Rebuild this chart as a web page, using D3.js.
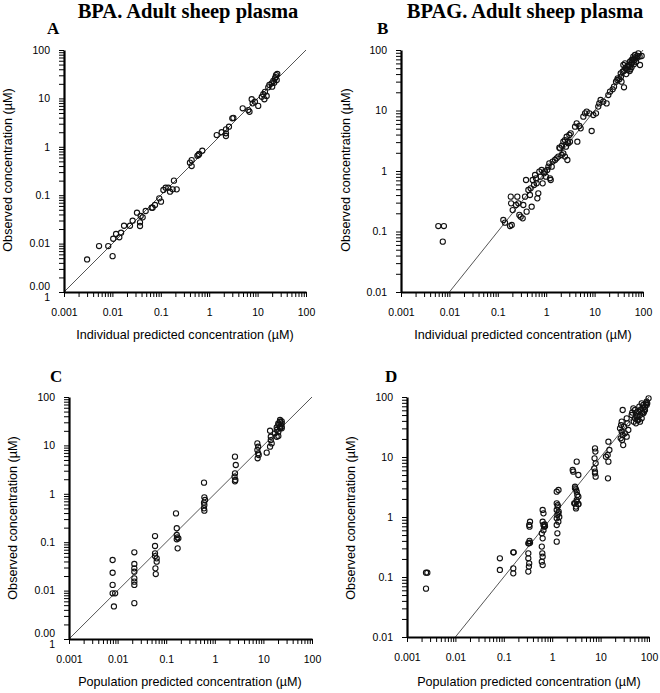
<!DOCTYPE html>
<html><head><meta charset="utf-8">
<script src="https://cdn.jsdelivr.net/npm/d3@7"></script>
<style>body{margin:0;background:#fff}svg{display:block}</style>
</head><body>
<svg id="chart" width="660" height="693"></svg>
<script>
// ---------------- DATA ----------------
const xTickValues = [0.001, 0.01, 0.1, 1, 10, 100];
const xTickLabels = ["0.001", "0.01", "0.1", "1", "10", "100"];
const yTickValuesFull = [0.001, 0.01, 0.1, 1, 10, 100];
const yTickLabelsFull = ["0.00\n1", "0.01", "0.1", "1", "10", "100"];
const yTickValuesShort = [0.01, 0.1, 1, 10, 100];
const yTickLabelsShort = ["0.01", "0.1", "1", "10", "100"];

const titles = ["BPA. Adult sheep plasma", "BPAG. Adult sheep plasma"];
const panelLetters = ["A", "B", "C", "D"];
const xTitles = ["Individual predicted concentration (\u00b5M)", "Population predicted concentration (\u00b5M)"];
const yTitle = "Observed concentration (\u00b5M)";

// [predicted, observed]
const bpaIpred = [
  [0.0030,0.0047],[0.0053,0.0089],[0.0082,0.0089],[0.0101,0.0055],[0.0104,0.0126],[0.0119,0.0158],
  [0.0139,0.0135],[0.0151,0.0168],[0.0174,0.0234],[0.0231,0.0234],[0.0262,0.0297],[0.0322,0.0435],
  [0.0372,0.0231],[0.0372,0.0275],[0.0384,0.0372],[0.0422,0.0349],[0.0487,0.0472],[0.0647,0.0552],
  [0.0677,0.055],[0.0759,0.0627],[0.093,0.086],[0.101,0.0735],[0.113,0.128],[0.126,0.143],
  [0.143,0.143],[0.155,0.118],[0.176,0.132],[0.187,0.2],[0.213,0.132],[0.40,0.47],[0.434,0.40],
  [0.434,0.53],[0.57,0.65],[0.62,0.71],[0.60,0.68],[0.72,0.83],[1.43,1.75],[1.81,2.0],[2.22,1.9],
  [2.22,2.3],[2.56,2.6],[2.22,1.67],[3.0,3.88],[3.16,3.95],[4.92,6.24],[6.43,5.75],[6.8,5.3],
  [7.55,9.6],[7.9,7.9],[8.8,8.55],[10.3,7.0],[12.2,10.8],[13.1,12.2],[14.2,13.7],[13.8,9.6],
  [15.4,11.2],[16.6,16.9],[17.5,18.9],[19.5,20.5],[21.1,22.9],[22.9,26.0],[24,30.4],[25.5,31.9],
  [24.8,24.0],[22,21],[20,17.5],[23.5,27.5]
];

const bpagIpred = [
  [0.0059,0.123],[0.0077,0.123],[0.0073,0.068],
  [0.130,0.155],[0.141,0.140],[0.179,0.123],[0.194,0.128],[0.185,0.377],[0.188,0.292],[0.203,0.226],
  [0.238,0.274],[0.253,0.377],[0.266,0.292],[0.279,0.188],[0.297,0.176],[0.327,0.165],[0.337,0.274],
  [0.365,0.377],[0.383,0.710],[0.394,0.213],[0.428,0.485],[0.462,0.401],[0.477,0.517],[0.501,0.257],
  [0.525,0.710],[0.560,0.587],[0.588,0.859],[0.615,0.757],[0.635,0.625],[0.656,0.353],[0.687,0.428],
  [0.721,0.975],[0.769,0.806],[0.805,1.04],[0.845,0.625],[0.902,0.914],[0.944,0.975],[0.99,0.806],
  [1.05,1.04],[1.11,1.18],[1.16,1.34],[1.20,0.757],[1.24,0.710],[1.30,1.18],[1.36,1.43],[1.52,1.52],
  [1.64,1.62],[1.78,1.73],[1.93,2.37],[2.09,1.84],[2.26,1.96],[2.44,1.73],[2.56,2.52],[2.74,1.52],
  [2.86,2.87],[3.10,3.05],[4.40,3.05],
  [1.87,2.43],[2.12,2.62],[2.26,3.05],[2.44,3.25],[2.65,3.69],[2.78,3.05],[3.01,3.94],[3.21,4.20],
  [3.94,5.40],[4.26,6.13],[4.84,5.55],[5.15,5.07],[5.85,7.91],[6.34,8.98],[6.86,9.57],[7.78,8.98],
  [8.70,4.58],[9.42,8.43],[10.7,8.98],[11.9,11.6],[12.5,13.1],[13.3,14.9],[15.1,14.0],[17.7,13.1],
  [19.2,18.0],[20.8,20.5],[23.6,22.4],[25.2,24.8],[27.7,30.0],[29.5,31.9],[32.5,32.7],[34.6,41.1],
  [38.0,43.8],[39.3,56.5],[40.5,24.2],[42.5,60.2],[44.5,49.8],[47.5,46.7],[51.4,56.5],[53.8,64.1],
  [58.3,68.4],[63.1,77.6],[68.4,82.6],[74.0,72.8],[80.1,88.1],[86.7,56.5],[93.8,79.6],
  [35,36],[40,45],[45,40],[50,52],[55,48],[60,62],[65,58],[70,75],[48,55],[57,60],[62,70],[72,64],
  [78,80],[53,45],[43,50],[66,68],[85,78],[30,34],[36,30],[58,52]
];

const bpaPpred = [
  [0.0079,0.0429],[0.0079,0.0234],[0.0079,0.0131],[0.0079,0.0088],[0.0089,0.0088],[0.0084,0.0047],
  [0.0221,0.0618],[0.0221,0.0355],[0.0221,0.0288],[0.0221,0.0246],[0.0221,0.0179],[0.0221,0.0153],
  [0.0221,0.0131],[0.0221,0.0055],
  [0.0589,0.134],[0.0589,0.0834],[0.0589,0.0589],[0.0589,0.0518],[0.0637,0.0464],[0.0637,0.0396],
  [0.0600,0.0288],[0.0610,0.0220],
  [0.159,0.394],[0.165,0.194],[0.165,0.141],[0.170,0.126],[0.178,0.120],[0.165,0.115],[0.172,0.0747],
  [0.60,1.70],[0.61,0.845],[0.63,0.745],[0.60,0.656],[0.61,0.587],[0.60,0.501],[0.61,0.448],
  [2.6,5.85],[2.7,3.94],[2.6,2.65],[2.55,2.26],[2.65,1.93],[2.6,1.81],
  [7.5,11.0],[7.8,9.4],[7.5,8.04],[7.8,6.86],[8.0,6.34],[7.6,5.41],[11.7,7.08],
  [13.7,20.1],[14.2,12.9],[14.8,11.0],[13.7,9.4],[14.2,15.1],
  [17.3,17.8],[18.8,20.8],[18.8,23.6],[20.3,26.4],[20.3,28.6],[22.0,30.9],[22.0,33.5],[22.0,24.4],
  [23.8,22.5],[18.8,15.1],[20.3,19.2],[22.0,22.5],[23.8,24.4],[20.3,15.6],[23.8,28.6],[23.8,31.5]
];

const bpagPpred = [
  [0.00247,0.118],[0.00263,0.118],[0.00247,0.064],
  [0.083,0.205],[0.083,0.131],
  [0.157,0.258],[0.160,0.258],[0.157,0.139],[0.157,0.115],
  [0.348,0.835],[0.335,0.736],[0.340,0.69],[0.321,0.248],[0.321,0.205],[0.335,0.169],[0.330,0.149],
  [0.321,0.123],[0.330,0.364],[0.348,0.373],[0.321,0.364],[0.340,0.40],
  [0.635,1.31],[0.66,1.15],[0.635,0.835],[0.66,0.736],[0.68,0.69],[0.71,0.70],[0.61,0.535],
  [0.635,0.441],[0.61,0.321],[0.625,0.248],[0.635,0.218],[0.61,0.180],[0.635,0.158],[0.70,0.75],[0.66,0.60],
  [1.24,1.69],[1.30,1.49],[1.24,1.31],[1.34,1.15],[1.28,1.08],[1.24,0.95],[1.34,0.835],[1.24,0.736],
  [1.28,0.535],[1.24,0.388],[1.40,1.0],[1.24,2.64],[1.35,2.82],[1.30,1.58],[1.36,1.23],
  [2.96,1.69],[3.1,1.49],[3.2,1.80],[3.47,1.65],[2.65,6.07],[2.72,5.70],[2.96,3.20],[2.96,3.00],
  [3.1,2.89],[3.21,2.64],[3.3,2.33],[3.47,2.18],[3.21,1.92],[2.85,1.69],[3.1,1.39],[3.47,1.63],
  [3.47,5.01],[3.21,8.36],
  [7.66,13.9],[7.8,12.3],[7.5,9.5],[7.9,7.84],[7.4,6.47],[7.66,5.34],[7.9,4.70],[7.66,5.70],
  [14.5,18.0],[15.2,13.1],[14.0,10.8],[12.9,10.1],[14.5,8.36],[14.2,4.41],
  [28.6,60.7],[27.3,38.8],[26.5,34.1],[25.2,30.1],[27.3,26.4],[28.6,23.3],[26.0,20.5],[27.8,19.2],
  [29.3,15.8],[30.5,32.0],[31.9,24.8],[34.6,21.8],[37.4,28.2],[36.0,36.4],[34.6,44.1],
  [47.5,64.7],[51.4,60.7],[53.8,53.4],[55.6,47.0],[57.4,41.4],[60.3,57.0],[63.1,69.0],[65.2,50.1],
  [70.6,78.4],[74.0,64.7],[76.4,73.6],[78.9,57.0],[82.6,69.0],[86.7,78.4],[89.5,83.6],[48.5,38.8],
  [53.8,36.4],[60.3,41.4],[70.6,44.1],[76.4,53.4],[43.8,50.1],[51.4,44.1],[65.2,38.8],[82.6,60.7],
  [89.5,73.6],[92,78.4],[98,95.0],[45,55],[58,48],[68,62],[72,55]
];

// ---------------- LAYOUT ----------------
const panels = [
  {data: bpaIpred, left: 64, right: 306, top: 50, bottom: 292, ymin: 0.001, yv: yTickValuesFull, yl: yTickLabelsFull,
   xTitle: xTitles[0], xTitleX: 185, xTitleY: 339, yTitleX: 12, yTitleY: 170, letterX: 47, letterY: 34, lineFrom: 0.001},
  {data: bpagIpred, left: 401, right: 643, top: 50, bottom: 292, ymin: 0.01, yv: yTickValuesShort, yl: yTickLabelsShort,
   xTitle: xTitles[0], xTitleX: 523, xTitleY: 339, yTitleX: 350, yTitleY: 170, letterX: 377, letterY: 34, lineFrom: 0.01},
  {data: bpaPpred, left: 69, right: 312, top: 397, bottom: 639, ymin: 0.001, yv: yTickValuesFull, yl: yTickLabelsFull,
   xTitle: xTitles[1], xTitleX: 190, xTitleY: 686, yTitleX: 17, yTitleY: 518, letterX: 50, letterY: 382, lineFrom: 0.001},
  {data: bpagPpred, left: 407, right: 649, top: 397, bottom: 637, ymin: 0.01, yv: yTickValuesShort, yl: yTickLabelsShort,
   xTitle: xTitles[1], xTitleX: 529, xTitleY: 686, yTitleX: 355, yTitleY: 518, letterX: 385, letterY: 382, lineFrom: 0.01}
];

const svg = d3.select("#chart");
const sans = "'Liberation Sans', Arial, sans-serif";
const serif = "'Liberation Serif', 'Times New Roman', serif";

// Titles
svg.append("text").attr("x", 188).attr("y", 17.5).attr("text-anchor", "middle")
  .attr("font-family", serif).attr("font-weight", "bold").attr("font-size", 20.5).text(titles[0]);
svg.append("text").attr("x", 525).attr("y", 17.5).attr("text-anchor", "middle")
  .attr("font-family", serif).attr("font-weight", "bold").attr("font-size", 20.5).text(titles[1]);

function minorTicks(lo, hi) {
  const out = [];
  for (let d = lo; d < hi * 0.999; d *= 10) {
    for (let k = 2; k <= 9; k++) out.push(d * k);
  }
  return out;
}

panels.forEach((p, i) => {
  const g = svg.append("g");
  const x = d3.scaleLog().domain([0.001, 100]).range([p.left, p.right]);
  const y = d3.scaleLog().domain([p.ymin, 100]).range([p.bottom, p.top]);

  // identity line
  g.append("line")
    .attr("x1", x(p.lineFrom)).attr("y1", y(p.lineFrom))
    .attr("x2", x(100)).attr("y2", y(100))
    .attr("stroke", "#555").attr("stroke-width", 1);

  // points
  g.selectAll("circle.pt").data(p.data).join("circle")
    .attr("class", "pt")
    .attr("cx", d => x(d[0])).attr("cy", d => y(d[1]))
    .attr("r", 2.6).attr("fill", "none").attr("stroke", "#111").attr("stroke-width", 1.1);

  // x axis minor ticks
  g.append("g").attr("transform", `translate(0,${p.bottom})`)
    .call(d3.axisBottom(x).tickValues(minorTicks(0.001, 100)).tickFormat("").tickSize(5).tickSizeOuter(0))
    .call(a => a.select(".domain").remove())
    .selectAll("line").attr("stroke", "#000");
  // y axis minor ticks
  g.append("g").attr("transform", `translate(${p.left},0)`)
    .call(d3.axisLeft(y).tickValues(minorTicks(p.ymin, 100)).tickFormat("").tickSize(5).tickSizeOuter(0))
    .call(a => a.select(".domain").remove())
    .selectAll("line").attr("stroke", "#000");

  // x axis major
  const xa = g.append("g").attr("transform", `translate(0,${p.bottom})`)
    .call(d3.axisBottom(x).tickValues(xTickValues).tickFormat((d, k) => xTickLabels[k]).tickSize(5).tickPadding(11.5).tickSizeOuter(0));
  xa.select(".domain").attr("stroke", "#000").attr("stroke-width", 2);
  xa.selectAll("line").attr("stroke", "#000");
  xa.selectAll("text").attr("font-family", sans).attr("font-size", 10.5).attr("fill", "#000");

  // y axis major
  const ya = g.append("g").attr("transform", `translate(${p.left},0)`)
    .call(d3.axisLeft(y).tickValues(p.yv).tickFormat((d, k) => p.yl[k]).tickSize(5).tickPadding(9).tickSizeOuter(0));
  ya.select(".domain").attr("stroke", "#000").attr("stroke-width", 2.2);
  ya.selectAll("line").attr("stroke", "#000");
  ya.selectAll("text").attr("font-family", sans).attr("font-size", 10.5).attr("fill", "#000")
    .each(function() {
      const t = d3.select(this);
      const s = t.text();
      if (s.includes("\n")) {
        const parts = s.split("\n");
        const xx = t.attr("x");
        t.text("").attr("dy", null);
        t.append("tspan").attr("x", xx).attr("y", -3).text(parts[0]);
        t.append("tspan").attr("x", xx).attr("y", 8).text(parts[1]);
      }
    });

  // axis titles
  g.append("text").attr("x", p.xTitleX).attr("y", p.xTitleY).attr("text-anchor", "middle")
    .attr("font-family", sans).attr("font-size", 12.6).text(p.xTitle);
  g.append("text").attr("transform", `translate(${p.yTitleX},${p.yTitleY}) rotate(-90)`)
    .attr("text-anchor", "middle").attr("font-family", sans).attr("font-size", 12.6).text(yTitle);

  // panel letter
  g.append("text").attr("x", p.letterX).attr("y", p.letterY)
    .attr("font-family", serif).attr("font-weight", "bold").attr("font-size", 17).text(panelLetters[i]);
});
</script>
</body></html>
